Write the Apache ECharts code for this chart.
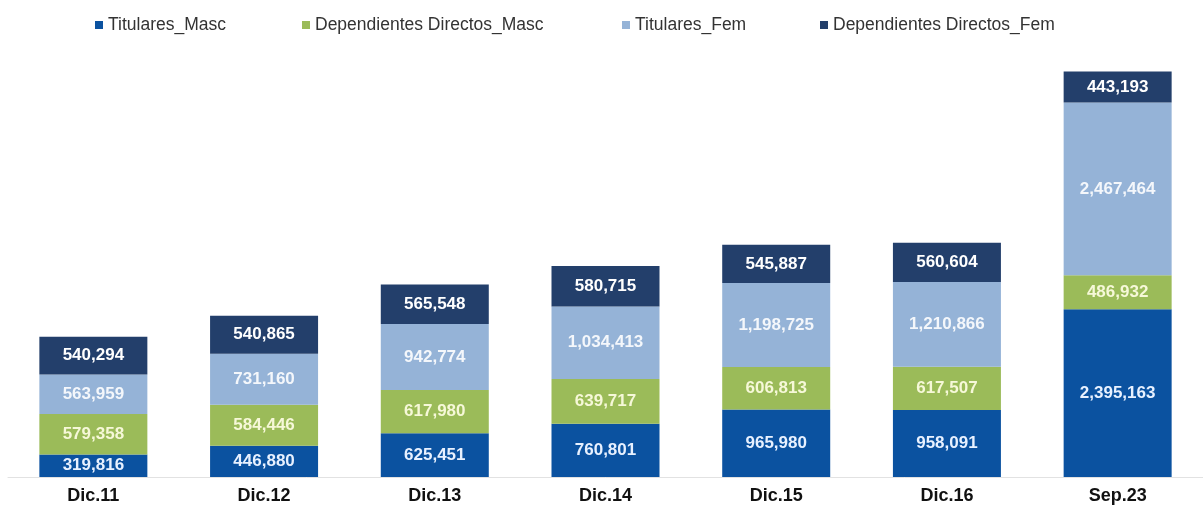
<!DOCTYPE html>
<html>
<head>
<meta charset="utf-8">
<script src="https://cdn.jsdelivr.net/npm/echarts@6/dist/echarts.min.js"></script>
<style>
  html, body { margin: 0; height: 100%; background: #fff; }
  #container { width: 1203px; height: 512px; }
</style>
</head>
<body>
<div id="container"></div>
<script>
  // periodos
  const categories = ['Dic.11', 'Dic.12', 'Dic.13', 'Dic.14', 'Dic.15', 'Dic.16', 'Sep.23'];

  const titularesMasc = [319816, 446880, 625451, 760801, 965980, 958091, 2395163];
  const dependientesMasc = [579358, 584446, 617980, 639717, 606813, 617507, 486932];
  const titularesFem = [563959, 731160, 942774, 1034413, 1198725, 1210866, 2467464];
  const dependientesFem = [540294, 540865, 565548, 580715, 545887, 560604, 443193];

  const seriesNames = ['Titulares_Masc', 'Dependientes Directos_Masc', 'Titulares_Fem', 'Dependientes Directos_Fem'];
  const colors = ['#0b52a0', '#9bbb59', '#95b3d7', '#233f6b'];

  const chart = echarts.init(document.getElementById('container'), null, { renderer: 'canvas' });

  const fmt = function (p) {
    return p.value.toLocaleString('en-US');
  };

  const makeSeries = function (i, data, textColor) {
    return {
      name: seriesNames[i],
      type: 'bar',
      stack: 'total',
      barWidth: 108,
      data: data,
      itemStyle: { color: colors[i] },
      label: {
        show: true,
        position: 'inside',
        formatter: fmt,
        color: textColor,
        fontFamily: 'Liberation Sans, Arial',
        fontWeight: 'bold',
        fontSize: 17
      }
    };
  };

  // one legend per item so each sits where it does in the original
  const legendX = [95, 302, 622, 820];
  const legends = seriesNames.map(function (n, i) {
    return {
      data: [n],
      top: 16,
      left: legendX[i],
      padding: 0,
      itemWidth: 8,
      itemHeight: 8,
      icon: 'rect',
      textStyle: {
        color: '#333',
        fontFamily: 'Liberation Sans, Arial',
        fontSize: 17.5
      }
    };
  });

  const option = {
    animation: false,
    legend: legends,
    grid: { left: 8, width: 1202, top: 57, bottom: 35 },
    xAxis: {
      type: 'category',
      data: categories,
      axisTick: { show: false },
      axisLine: { lineStyle: { color: '#e2e2e2' } },
      axisLabel: {
        color: '#111',
        fontFamily: 'Liberation Sans, Arial',
        fontWeight: 'bold',
        fontSize: 18,
        margin: 10
      }
    },
    yAxis: {
      type: 'value',
      min: 0,
      max: 6000000,
      show: false,
      splitLine: { show: false }
    },
    series: [
      makeSeries(0, titularesMasc, '#e8f1ff'),
      makeSeries(1, dependientesMasc, '#f6f8d8'),
      makeSeries(2, titularesFem, '#f4f7fb'),
      makeSeries(3, dependientesFem, '#ffffff')
    ]
  };

  chart.setOption(option);
  window.addEventListener('resize', chart.resize);
</script>
</body>
</html>
